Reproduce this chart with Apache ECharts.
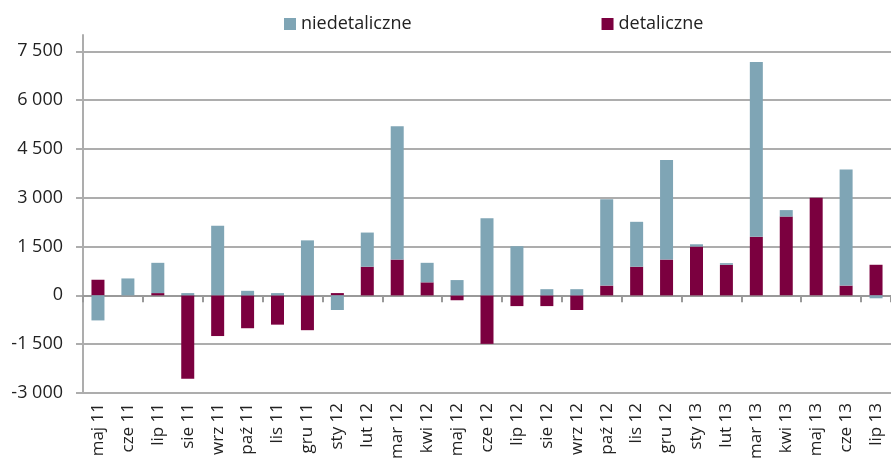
<!DOCTYPE html>
<html>
<head>
<meta charset="utf-8">
<script src="https://cdn.jsdelivr.net/npm/echarts@6/dist/echarts.min.js"></script>
<style>html,body{margin:0;padding:0;background:#fff}#c{width:891px;height:466px}</style>
</head>
<body>
<div id="c"></div>
<script>
var categories = ['maj 11','cze 11','lip 11','sie 11','wrz 11','paź 11','lis 11','gru 11','sty 12','lut 12','mar 12','kwi 12','maj 12','cze 12','lip 12','sie 12','wrz 12','paź 12','lis 12','gru 12','sty 13','lut 13','mar 13','kwi 13','maj 13','cze 13','lip 13'];
var detaliczne = [480, 0, 70, -2560, -1250, -1010, -900, -1070, 70, 880, 1100, 400, -150, -1490, -330, -330, -450, 300, 880, 1100, 1500, 940, 1800, 2420, 3000, 300, 940];
var niedetaliczne = [-770, 520, 930, 70, 2140, 140, 70, 1690, -450, 1050, 4100, 600, 470, 2370, 1510, 190, 190, 2650, 1380, 3060, 70, 50, 5370, 200, 0, 3570, -90];
var yTicks = [-3000, -1500, 0, 1500, 3000, 4500, 6000, 7500];

var FONT = 'Open Sans';
var GRID_COLOR = '#adadad';
var chart = echarts.init(document.getElementById('c'), null, {renderer: 'canvas'});
chart.setOption({
  animation: false,
  textStyle: {fontFamily: FONT},
  legend: {
    top: 10, left: 279, itemGap: 190, itemWidth: 12, itemHeight: 12, icon: 'rect',
    textStyle: {fontFamily: FONT, fontSize: 18, color: '#222'},
    data: ['niedetaliczne', 'detaliczne']
  },
  grid: {left: 83, right: -1, top: 35, bottom: 73, containLabel: false},
  xAxis: [{
    type: 'category', data: categories, boundaryGap: true,
    axisLine: {onZero: true, lineStyle: {color: '#999', width: 2}},
    axisTick: {show: true, length: 7, inside: false, lineStyle: {color: '#999', width: 2}},
    axisLabel: {show: false},
    splitLine: {show: false}
  }, {
    type: 'category', data: categories, position: 'bottom',
    axisLine: {show: false, onZero: false}, axisTick: {show: false},
    axisLabel: {show: true, rotate: 90, margin: 10, fontSize: 17, color: '#222', fontFamily: FONT, interval: 0},
    splitLine: {show: false}
  }],
  yAxis: {
    type: 'value', min: -3000, max: 8000,
    axisLine: {show: true, onZero: false, lineStyle: {color: GRID_COLOR, width: 2}},
    axisTick: {show: true, length: 7, customValues: yTicks, lineStyle: {color: GRID_COLOR, width: 2}},
    axisLabel: {
      customValues: yTicks, margin: 20, fontSize: 18, color: '#222', fontFamily: FONT,
      formatter: function (v) {
        var s = Math.abs(v).toString().replace(/\B(?=(\d{3})+(?!\d))/g, ' ');
        return (v < 0 ? '-' : '') + s;
      }
    },
    splitLine: {show: true, lineStyle: {color: GRID_COLOR, width: 2}}
  },
  series: [{
    name: 'detaliczne', type: 'bar', stack: 'a', barWidth: 13, xAxisIndex: 0,
    itemStyle: {color: '#7b003f'},
    data: detaliczne
  }, {
    name: 'niedetaliczne', type: 'bar', stack: 'a', barWidth: 13, xAxisIndex: 0,
    itemStyle: {color: '#7fa5b5'},
    data: niedetaliczne
  }]
});
</script>
</body>
</html>
